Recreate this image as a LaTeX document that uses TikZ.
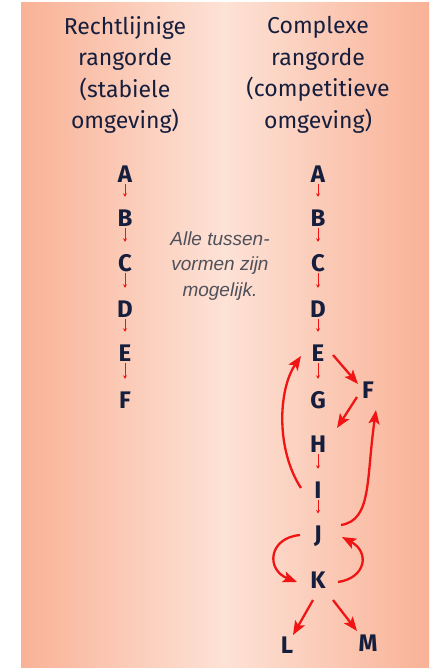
\documentclass[tikz,border=0pt]{standalone}
\usepackage{fontspec}
\setmainfont{Fira Sans}
\newfontfamily\italfont{Liberation Sans}
\usetikzlibrary{arrows.meta}
\definecolor{salmon}{RGB}{249,178,150}
\definecolor{ink}{RGB}{22,30,62}
\definecolor{arrred}{RGB}{240,20,20}
\definecolor{graytxt}{RGB}{80,80,90}
\tikzset{
  head/.style={font=\fontsize{23}{31.5}\selectfont, text=ink, align=center},
  letter/.style={font=\fontsize{24}{24}\selectfont\bfseries, text=ink, inner sep=0pt, minimum height=18pt},
  small/.style={draw=arrred, line width=0.7pt, -{Stealth[length=3.5pt,width=4pt]}, shorten >=12pt, shorten <=1pt},
  big/.style={draw=arrred, line width=2.3pt, -{Stealth[length=14pt,width=11pt,inset=3pt]}},
  note/.style={font=\fontsize{19}{25.5}\selectfont\italfont\itshape, text=graytxt, align=center}
}
\begin{document}
\begin{tikzpicture}[x=1pt,y=-1pt]
\useasboundingbox (0,0) rectangle (429,668);
\shade[left color=salmon, right color=salmon, middle color={rgb,255:red,253;green,226;blue,214}] (21,3) rectangle (429,668);

\node[head] (h1) at (125,75) {Rechtlijnige\\rangorde\\(stabiele\\omgeving)};
\node[head] (h2) at (318,75) {Complexe\\rangorde\\(competitieve\\omgeving)};
\node[note] (n) at (220,266) {Alle tussen-\\vormen zijn\\mogelijk.};

% left column
\node[letter] (lA) at (125,174) {A};
\node[letter] (lB) at (125,218) {B};
\node[letter] (lC) at (125,263) {C};
\node[letter] (lD) at (125,309) {D};
\node[letter] (lE) at (125,353) {E};
\node[letter] (lF) at (125,400) {F};
\foreach \a/\b in {lA/lB,lB/lC,lC/lD,lD/lE,lE/lF} \draw[small] (\a.south) -- (\b.north);

% right column
\node[letter] (rA) at (318,174) {A};
\node[letter] (rB) at (318,218) {B};
\node[letter] (rC) at (318,263) {C};
\node[letter] (rD) at (318,309) {D};
\node[letter] (rE) at (318,353) {E};
\node[letter] (rG) at (318,400) {G};
\node[letter] (rH) at (318,444) {H};
\node[letter] (rI) at (318,490) {I};
\node[letter] (rJ) at (318,536) {J};
\node[letter] (rK) at (318,580) {K};
\node[letter] (rF) at (368,390) {F};
\node[letter] (rL) at (287,645) {L};
\node[letter] (rM) at (368,643) {M};
\foreach \a/\b in {rA/rB,rB/rC,rC/rD,rD/rE,rE/rG,rH/rI,rI/rJ} \draw[small] (\a.south) -- (\b.north);

\coordinate (e1) at (333,355);
\coordinate (e2) at (358,384);
\draw[big] (e1) -- (e2);
\coordinate (f1) at (357,397);
\coordinate (f2) at (337,428);
\draw[big] (f1) -- (f2);
\coordinate (i1) at (301,488);
\coordinate (i2) at (301,356);
\draw[big] (i1) .. controls (276,450) and (278,390) .. (i2);
\coordinate (j1) at (341,525);
\coordinate (j2) at (376,410);
\draw[big] (j1) .. controls (372,520) and (366,480) .. (j2);
\coordinate (j3) at (300,535);
\coordinate (k1) at (297,582);
\draw[big] (j3) .. controls (268,538) and (266,570) .. (k1);
\coordinate (k2) at (338,582);
\coordinate (j4) at (342,537);
\draw[big] (k2) .. controls (366,578) and (370,552) .. (j4);
\coordinate (k3) at (313,600);
\coordinate (l1) at (293,635);
\draw[big] (k3) -- (l1);
\coordinate (k4) at (333,600);
\coordinate (m1) at (357,631);
\draw[big] (k4) -- (m1);
\end{tikzpicture}
\end{document}
